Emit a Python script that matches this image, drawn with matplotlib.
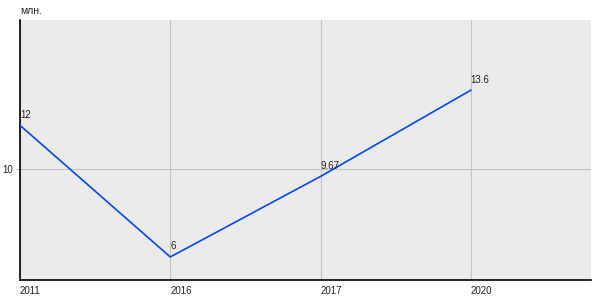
import matplotlib
matplotlib.use("Agg")
import matplotlib.pyplot as plt

years = ["2011", "2016", "2017", "2020"]
values = [12, 6, 9.67, 13.6]
value_labels = ["12", "6", "9.67", "13.6"]
y_ticks = [10]
y_tick_labels = ["10"]
unit_label = "млн."

plt.rcParams['font.family'] = ['Liberation Sans', 'DejaVu Sans']

fig = plt.figure(figsize=(6, 3), dpi=100)
ax = fig.add_axes([20/600, 20/300, 571/600, 260/300])
ax.set_facecolor('#ebebeb')

x = list(range(len(years)))
ax.plot(x, values, color='#0548ee', linewidth=1.2, zorder=3)
for xi, v, lab in zip(x, values, value_labels):
    ax.annotate(lab, (xi, v), xytext=(0, 4), textcoords='offset points',
                ha='left', va='bottom', fontsize=7, color='#222222', zorder=4)

ax.set_xlim(0, 3.8)
ax.set_ylim(4.95, 16.8)
ax.set_xticks(x)
ax.set_xticklabels(years, ha='left', fontsize=7, color='#222222')
ax.set_yticks(y_ticks)
ax.set_yticklabels(y_tick_labels, fontsize=7, color='#222222')
ax.tick_params(axis='x', length=0, pad=4)
ax.tick_params(axis='y', length=3, color='#c0c0c0', pad=2)
ax.grid(True, color='#c4c4c4', linewidth=0.8, zorder=1)
ax.set_axisbelow(True)

for s in ['top', 'right']:
    ax.spines[s].set_visible(False)
for s in ['left', 'bottom']:
    ax.spines[s].set_color('black')
    ax.spines[s].set_linewidth(1.2)

fig.text(20/600, 1 - 11/300, unit_label, ha='left', va='center', fontsize=7.5, color='#222222')

fig.savefig("out.png", dpi=100)
